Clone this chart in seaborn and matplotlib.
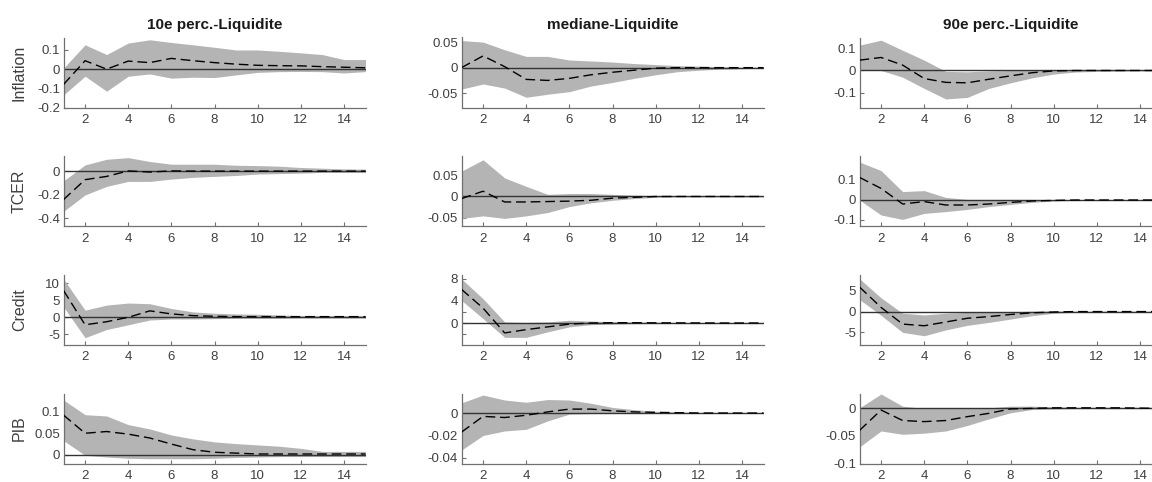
import numpy as np
import pandas as pd
import matplotlib
matplotlib.use("Agg")
import matplotlib.pyplot as plt
import seaborn as sns

# Horizons of the impulse responses
horizon = list(range(1, 16))

col_titles = ["10e perc.-Liquidite", "mediane-Liquidite", "90e perc.-Liquidite"]
row_labels = ["Inflation", "TCER", "Credit", "PIB"]

# ---- Inflation ----
infl_p10_med = [-0.08, 0.044, 0.0, 0.042, 0.034, 0.056, 0.044, 0.034, 0.026, 0.02, 0.018, 0.017, 0.013, 0.01, 0.007]
infl_p10_lo = [-0.135, -0.037, -0.115, -0.037, -0.025, -0.047, -0.042, -0.044, -0.03, -0.017, -0.013, -0.012, -0.013, -0.02, -0.013]
infl_p10_hi = [0.005, 0.127, 0.076, 0.136, 0.153, 0.139, 0.127, 0.114, 0.1, 0.1, 0.093, 0.085, 0.076, 0.05, 0.05]

infl_med_med = [0.0, 0.023, 0.002, -0.023, -0.025, -0.021, -0.014, -0.009, -0.005, -0.001, 0.0, 0.0, 0.0, 0.0, 0.0]
infl_med_lo = [-0.042, -0.032, -0.04, -0.058, -0.052, -0.047, -0.036, -0.029, -0.021, -0.014, -0.008, -0.005, -0.003, -0.002, -0.001]
infl_med_hi = [0.053, 0.05, 0.035, 0.022, 0.022, 0.015, 0.013, 0.011, 0.008, 0.006, 0.004, 0.003, 0.002, 0.001, 0.001]

infl_p90_med = [0.046, 0.058, 0.024, -0.036, -0.053, -0.055, -0.039, -0.024, -0.01, -0.002, 0.0, 0.0, 0.0, 0.0, 0.0]
infl_p90_lo = [0.0, 0.0, -0.03, -0.08, -0.127, -0.12, -0.08, -0.055, -0.033, -0.016, -0.007, -0.004, -0.003, -0.002, -0.002]
infl_p90_hi = [0.113, 0.135, 0.09, 0.046, -0.004, -0.006, -0.002, 0.0, 0.002, 0.004, 0.003, 0.003, 0.003, 0.002, 0.002]

# ---- TCER ----
tcer_p10_med = [-0.24, -0.07, -0.042, 0.005, -0.005, 0.005, 0.003, 0.003, 0.003, 0.003, 0.003, 0.003, 0.003, 0.003, 0.003]
tcer_p10_lo = [-0.34, -0.2, -0.127, -0.085, -0.085, -0.065, -0.05, -0.042, -0.034, -0.022, -0.018, -0.014, -0.008, -0.008, -0.008]
tcer_p10_hi = [-0.08, 0.056, 0.104, 0.118, 0.085, 0.062, 0.062, 0.062, 0.053, 0.05, 0.045, 0.034, 0.028, 0.022, 0.02]

tcer_med_med = [-0.005, 0.0125, -0.013, -0.013, -0.012, -0.011, -0.009, -0.004, -0.002, 0.0, 0.0, 0.0, 0.0, 0.0, 0.0]
tcer_med_lo = [-0.052, -0.046, -0.052, -0.046, -0.038, -0.024, -0.015, -0.009, -0.005, -0.002, -0.001, -0.001, -0.001, -0.001, -0.001]
tcer_med_hi = [0.06, 0.087, 0.044, 0.024, 0.005, 0.007, 0.007, 0.005, 0.003, 0.002, 0.001, 0.001, 0.001, 0.001, 0.001]

tcer_p90_med = [0.113, 0.058, -0.02, -0.008, -0.025, -0.025, -0.02, -0.012, -0.005, -0.002, 0.0, 0.0, 0.0, 0.0, 0.0]
tcer_p90_lo = [0.0, -0.075, -0.097, -0.067, -0.058, -0.047, -0.033, -0.022, -0.012, -0.005, -0.002, -0.002, -0.002, -0.002, -0.002]
tcer_p90_hi = [0.19, 0.147, 0.042, 0.047, 0.013, 0.003, 0.003, 0.003, 0.003, 0.002, 0.001, 0.001, 0.001, 0.001, 0.001]

# ---- Credit ----
cred_p10_med = [7.9, -2.2, -1.3, 0.0, 1.9, 1.0, 0.5, 0.3, 0.2, 0.2, 0.2, 0.2, 0.2, 0.2, 0.2]
cred_p10_lo = [3.1, -6.0, -3.6, -2.2, -0.8, -0.5, -0.5, -0.4, -0.3, -0.3, -0.3, -0.2, -0.2, -0.2, -0.2]
cred_p10_hi = [11.3, 2.1, 3.6, 4.2, 4.0, 2.6, 1.6, 1.2, 1.0, 0.9, 0.7, 0.5, 0.5, 0.5, 0.5]

cred_med_med = [6.1, 2.7, -1.8, -1.2, -0.7, -0.2, 0.0, 0.06, 0.05, 0.03, 0.02, 0.01, 0.0, 0.0, 0.0]
cred_med_lo = [4.1, 0.8, -2.6, -2.6, -1.6, -0.7, -0.3, -0.2, -0.1, -0.1, -0.1, -0.1, -0.1, -0.1, -0.1]
cred_med_hi = [8.0, 4.4, 0.2, 0.1, 0.2, 0.5, 0.35, 0.25, 0.2, 0.15, 0.1, 0.1, 0.1, 0.1, 0.1]

cred_p90_med = [5.9, 1.0, -3.0, -3.4, -2.5, -1.6, -1.2, -0.7, -0.3, -0.1, 0.0, 0.0, 0.0, 0.0, 0.0]
cred_p90_lo = [2.9, -0.9, -5.0, -5.8, -4.4, -3.3, -2.6, -1.8, -1.0, -0.4, -0.15, -0.05, -0.05, -0.05, -0.05]
cred_p90_hi = [7.9, 3.3, -0.4, -0.8, -0.4, -0.2, -0.1, -0.05, 0.1, 0.15, 0.1, 0.1, 0.1, 0.1, 0.1]

# ---- PIB ----
pib_p10_med = [0.092, 0.05, 0.054, 0.048, 0.039, 0.025, 0.012, 0.006, 0.004, 0.002, 0.002, 0.002, 0.002, 0.002, 0.002]
pib_p10_lo = [0.033, -0.001, -0.005, -0.008, -0.009, -0.009, -0.009, -0.008, -0.006, -0.005, -0.004, -0.004, -0.004, -0.004, -0.004]
pib_p10_hi = [0.127, 0.093, 0.09, 0.07, 0.06, 0.046, 0.037, 0.03, 0.026, 0.023, 0.02, 0.015, 0.008, 0.008, 0.008]

pib_med_med = [-0.017, -0.003, -0.004, -0.002, 0.001, 0.0035, 0.0035, 0.002, 0.001, 0.0006, 0.0003, 0.0, 0.0, 0.0, 0.0]
pib_med_lo = [-0.033, -0.02, -0.016, -0.0145, -0.007, -0.001, -0.0005, -0.0003, -0.0003, -0.0003, -0.0003, -0.0003, -0.0003, -0.0003, -0.0003]
pib_med_hi = [0.009, 0.016, 0.0116, 0.0096, 0.012, 0.0116, 0.0087, 0.005, 0.003, 0.0015, 0.001, 0.0005, 0.0005, 0.0005, 0.0005]

pib_p90_med = [-0.04, -0.003, -0.022, -0.024, -0.022, -0.015, -0.009, -0.001, 0.0, 0.001, 0.001, 0.001, 0.001, 0.0005, 0.0]
pib_p90_lo = [-0.07, -0.041, -0.047, -0.045, -0.041, -0.031, -0.019, -0.008, -0.002, -0.001, -0.0005, -0.0005, -0.0005, -0.0005, -0.0005]
pib_p90_hi = [0.001, 0.026, 0.004, 0.0, 0.0, 0.0, 0.001, 0.004, 0.004, 0.003, 0.002, 0.002, 0.002, 0.002, 0.002]

# Grid of (median, lower, upper) per variable and quantile
panels = [
    [(infl_p10_med, infl_p10_lo, infl_p10_hi), (infl_med_med, infl_med_lo, infl_med_hi), (infl_p90_med, infl_p90_lo, infl_p90_hi)],
    [(tcer_p10_med, tcer_p10_lo, tcer_p10_hi), (tcer_med_med, tcer_med_lo, tcer_med_hi), (tcer_p90_med, tcer_p90_lo, tcer_p90_hi)],
    [(cred_p10_med, cred_p10_lo, cred_p10_hi), (cred_med_med, cred_med_lo, cred_med_hi), (cred_p90_med, cred_p90_lo, cred_p90_hi)],
    [(pib_p10_med, pib_p10_lo, pib_p10_hi), (pib_med_med, pib_med_lo, pib_med_hi), (pib_p90_med, pib_p90_lo, pib_p90_hi)],
]

ylims = [
    [(-0.2, 0.165), (-0.078, 0.059), (-0.165, 0.147)],
    [(-0.465, 0.132), (-0.07, 0.096), (-0.13, 0.22)],
    [(-8.0, 12.6), (-3.9, 8.8), (-7.9, 8.9)],
    [(-0.02, 0.142), (-0.045, 0.0174), (-0.1, 0.027)],
]
yticks = [
    [[-0.2, -0.1, 0, 0.1], [-0.05, 0, 0.05], [-0.1, 0, 0.1]],
    [[-0.4, -0.2, 0], [-0.05, 0, 0.05], [-0.1, 0, 0.1]],
    [[-5, 0, 5, 10], [0, 4, 8], [-5, 0, 5]],
    [[0, 0.05, 0.1], [-0.04, -0.02, 0], [-0.1, -0.05, 0]],
]
xticks = [2, 4, 6, 8, 10, 12, 14]

sns.set_theme(style="white")
plt.rcParams["font.family"] = ["Liberation Sans", "DejaVu Sans"]

W, H = 1152, 482
fig = plt.figure(figsize=(W / 100, H / 100), dpi=100)

col_left = [63.5, 461.5, 859.5]
row_top = [37.5, 156, 274.5, 393.5]
ax_w, ax_h = 302, 70

band_color = "#b4b4b4"
axis_color = "#707070"
text_color = "#404040"


def fmt(v):
    return f"{v:g}"


for r in range(4):
    for c in range(3):
        left = col_left[c] / W
        bottom = 1 - (row_top[r] + ax_h) / H
        ax = fig.add_axes([left, bottom, ax_w / W, ax_h / H])
        med, lo, hi = panels[r][c]
        df = pd.DataFrame({"h": horizon, "med": med, "lo": lo, "hi": hi})
        ax.fill_between(df["h"], df["lo"], df["hi"], color=band_color, linewidth=0, zorder=1)
        ax.axhline(0, color="#333333", linewidth=1.0, zorder=2)
        sns.lineplot(data=df, x="h", y="med", ax=ax, color="black", linewidth=1.0,
                     linestyle=(0, (7, 3.5)), zorder=3)
        ax.set_xlim(1, 15)
        ax.set_ylim(*ylims[r][c])
        ax.set_xticks(xticks)
        ax.set_yticks(yticks[r][c])
        ax.set_yticklabels([fmt(v) for v in yticks[r][c]])
        if r == 2 and c == 1:
            ax.set_yticks([-2, 2, 6], minor=True)
        ax.tick_params(axis="both", which="both", direction="in", length=3, width=0.8,
                       color=axis_color, labelcolor=text_color, labelsize=9.5, pad=2.5,
                       bottom=True, left=True)
        ax.tick_params(axis="x", pad=5)
        for side in ["top", "right"]:
            ax.spines[side].set_visible(False)
        for side in ["left", "bottom"]:
            ax.spines[side].set_color(axis_color)
            ax.spines[side].set_linewidth(0.9)
        ax.set_xlabel("")
        ax.set_ylabel("")
        if c == 0:
            ax.set_ylabel(row_labels[r], fontsize=11.5, color=text_color)
            ax.yaxis.set_label_coords(-0.121, 0.5)
        if r == 0:
            ax.set_title(col_titles[c], fontsize=11, fontweight="bold", color="#1a1a1a", pad=6)

fig.savefig("out.png", dpi=100)
